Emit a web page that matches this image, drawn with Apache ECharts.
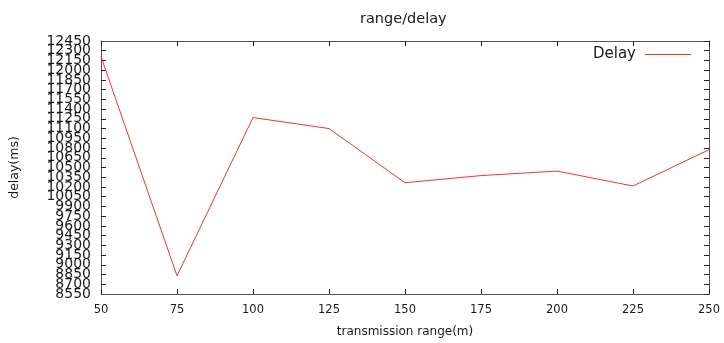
<!DOCTYPE html>
<html>
<head>
<meta charset="utf-8">
<script src="https://cdn.jsdelivr.net/npm/echarts@6/dist/echarts.min.js"></script>
<style>html,body{margin:0;padding:0;background:#fff}#c{width:724px;height:343px}</style>
</head>
<body>
<div id="c"></div>
<script>
const ranges = [50, 75, 100, 125, 150, 175, 200, 225, 250];
const delays = [12210, 8830, 11270, 11100, 10265, 10375, 10445, 10215, 10775];
const seriesName = 'Delay';
const titleText = 'range/delay';
const xName = 'transmission range(m)';
const yName = 'delay(ms)';

const chart = echarts.init(document.getElementById('c'));
const font = 'DejaVu Sans';
const axisCol = '#555';
const txt = '#1a1a1a';
const yLabel = { fontFamily: font, fontSize: 14, color: txt, margin: 10, lineHeight: 3, formatter: v => String(v) };
chart.setOption({
  animation: false,
  title: { text: titleText, left: 355, top: 7, textStyle: { fontFamily: font, fontSize: 14.5, fontWeight: 'normal', color: txt } },
  legend: {
    data: [seriesName], right: 28, top: 42, align: 'right',
    icon: 'rect', itemWidth: 46, itemHeight: 1,
    textStyle: { fontFamily: font, fontSize: 15, color: txt, padding: [0, 4, 0, 0] }
  },
  grid: { left: 99, right: 15, top: 41, bottom: 47 },
  xAxis: [{
    type: 'value', min: 50, max: 250, interval: 25,
    name: xName, nameLocation: 'middle', nameGap: 32,
    nameTextStyle: { fontFamily: font, fontSize: 12, color: txt },
    axisLine: { lineStyle: { color: axisCol, width: 1 } },
    axisTick: { inside: true, length: 5, lineStyle: { color: '#222' } },
    axisLabel: { fontFamily: font, fontSize: 11.5, color: txt, margin: 10, showMinLabel: true, showMaxLabel: true, formatter: v => String(v) },
    splitLine: { show: false }
  }, {
    type: 'value', position: 'top', min: 50, max: 250, interval: 25,
    axisLine: { show: true, lineStyle: { color: axisCol, width: 1 } },
    axisTick: { inside: true, length: 5, lineStyle: { color: '#222' } },
    axisLabel: { show: false }, splitLine: { show: false }
  }],
  yAxis: [{
    type: 'value', min: 8550, max: 12450, interval: 150,
    name: yName, nameLocation: 'middle', nameGap: 80,
    nameTextStyle: { fontFamily: font, fontSize: 12.5, color: txt },
    axisLine: { show: true, lineStyle: { color: axisCol, width: 1 } },
    axisTick: { show: true, inside: true, length: 5, lineStyle: { color: '#222' } },
    axisLabel: Object.assign({ showMinLabel: false, showMaxLabel: false }, yLabel),
    splitLine: { show: false }
  }, {
    type: 'value', position: 'right', min: 8550, max: 12450, interval: 150,
    axisLine: { show: true, lineStyle: { color: axisCol, width: 1 } },
    axisTick: { show: true, inside: true, length: 5, lineStyle: { color: '#222' } },
    axisLabel: { show: false }, splitLine: { show: false }
  }, {
    type: 'value', position: 'left', min: 8550, max: 12450, interval: 3900,
    axisLine: { show: false }, axisTick: { show: false },
    axisLabel: Object.assign({ showMinLabel: true, showMaxLabel: true }, yLabel),
    splitLine: { show: false }
  }],
  series: [{
    name: seriesName, type: 'line', xAxisIndex: 0, yAxisIndex: 0,
    data: ranges.map((r, i) => [r, delays[i]]),
    symbol: 'none', lineStyle: { color: '#ff3030', width: 1 }, itemStyle: { color: '#ff3030' }
  }]
});
</script>
</body>
</html>
